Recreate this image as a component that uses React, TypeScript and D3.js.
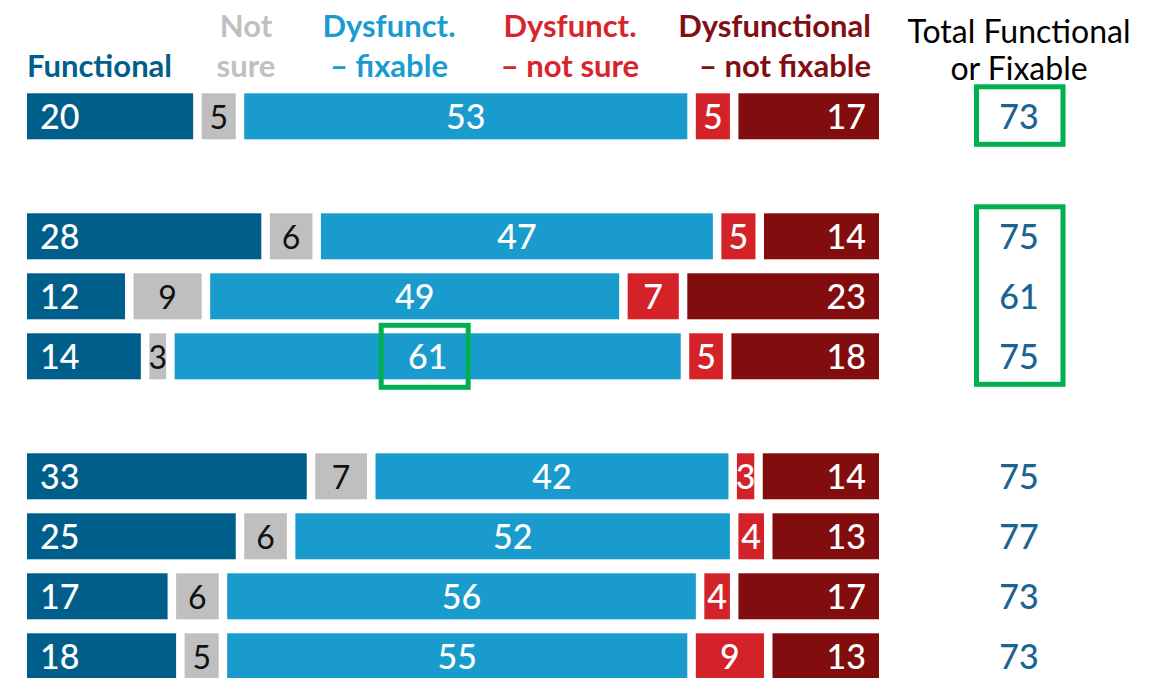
import React from "react";
import * as d3 from "d3";

// ---------- data ----------
const SLOTS = ["r1", "gapA", "r2", "r3", "r4", "gapB", "r5", "r6", "r7", "r8"];
const ROW_IDS = ["r1", "r2", "r3", "r4", "r5", "r6", "r7", "r8"];
const SERIES_KEYS = ["functional", "notSure", "dysFixable", "dysNotSure", "dysNotFixable"];
const HEADER_LINES = [
  ["Functional"],
  ["Not", "sure"],
  ["Dysfunct.", "– fixable"],
  ["Dysfunct.", "– not sure"],
  ["Dysfunctional", "– not fixable"],
];
const TOTAL_HEADER = ["Total Functional", "or Fixable"];

const FUNCTIONAL = [20, 28, 12, 14, 33, 25, 17, 18];
const NOT_SURE = [5, 6, 9, 3, 7, 6, 6, 5];
const DYS_FIXABLE = [53, 47, 49, 61, 42, 52, 56, 55];
const DYS_NOT_SURE = [5, 5, 7, 5, 3, 4, 4, 9];
const DYS_NOT_FIXABLE = [17, 14, 23, 18, 14, 13, 17, 13];
const TOTAL_FUNCTIONAL_OR_FIXABLE = [73, 75, 61, 75, 75, 77, 73, 73];

// highlighted totals (row ranges) and highlighted cell
const HIGHLIGHT_TOTAL_RANGES = [["r1", "r1"], ["r2", "r4"]];
const HIGHLIGHT_CELL = { row: "r4", series: "dysFixable" };

// ---------- styles / layout ----------
const COLORS: Record<string, string> = {
  functional: "#005f8a",
  notSure: "#bfbfbf",
  dysFixable: "#1a9bcd",
  dysNotSure: "#d42229",
  dysNotFixable: "#820d0f",
};
const HEADER_COLORS: Record<string, string> = {
  functional: "#005f8a",
  notSure: "#c0c0c0",
  dysFixable: "#1b9bd1",
  dysNotSure: "#d7242d",
  dysNotFixable: "#7f0f12",
};
const LABEL_COLORS: Record<string, string> = {
  functional: "#ffffff",
  notSure: "#111111",
  dysFixable: "#ffffff",
  dysNotSure: "#ffffff",
  dysNotFixable: "#ffffff",
};
const HEADER_POS: Record<string, { x: number; anchor: string }> = {
  functional: { x: 27, anchor: "start" },
  notSure: { x: 246, anchor: "middle" },
  dysFixable: { x: 389, anchor: "middle" },
  dysNotSure: { x: 570, anchor: "middle" },
  dysNotFixable: { x: 871, anchor: "end" },
};

const W = 1150;
const H = 678;
const X0 = 27;
const X1 = 879;
const GAP = 8.5;
const TOTAL_X = 1019;
const FONT = "Lato, 'Open Sans', sans-serif";
const GREEN = "#00b050";

export default function App() {
  const seriesValues: Record<string, number[]> = {
    functional: FUNCTIONAL,
    notSure: NOT_SURE,
    dysFixable: DYS_FIXABLE,
    dysNotSure: DYS_NOT_SURE,
    dysNotFixable: DYS_NOT_FIXABLE,
  };

  const y = d3
    .scaleBand<string>()
    .domain(SLOTS)
    .range([93.3, 93.3 + 60 * (SLOTS.length - 14 / 60)])
    .paddingInner(14 / 60)
    .paddingOuter(0);
  const bw = y.bandwidth();

  const rows = ROW_IDS.map((id, ri) => {
    const vals = SERIES_KEYS.map((k) => seriesValues[k][ri]);
    const sum = d3.sum(vals);
    const x = d3.scaleLinear().domain([0, sum]).range([X0, X1]);
    let cum = 0;
    const segs = SERIES_KEYS.map((k, si) => {
      const v = vals[si];
      const a = x(cum) + (si > 0 ? GAP / 2 : 0);
      const b = x(cum + v) - (si < SERIES_KEYS.length - 1 ? GAP / 2 : 0);
      cum += v;
      return { key: k, v, a, b };
    });
    return { id, ri, segs, y0: y(id) as number };
  });

  const cellHL = (() => {
    const r = rows.find((r) => r.id === HIGHLIGHT_CELL.row)!;
    const s = r.segs.find((s) => s.key === HIGHLIGHT_CELL.series)!;
    const cx = (s.a + s.b) / 2 - 3;
    return { x: cx - 43.5, y: r.y0 - 8, w: 87, h: bw + 16 };
  })();

  return (
    <svg
      width={W}
      height={H}
      style={{ position: "absolute", left: 0, top: 0, background: "#fff" }}
      fontFamily={FONT}
    >
      {/* headers */}
      {SERIES_KEYS.map((k, si) => {
        const lines = HEADER_LINES[si];
        const pos = HEADER_POS[k];
        const baseY = lines.length === 1 ? [77] : [37, 77];
        return (
          <text
            key={k}
            x={pos.x}
            textAnchor={pos.anchor as any}
            fill={HEADER_COLORS[k]}
            fontSize={31}
            fontWeight={700}
          >
            {lines.map((l, li) => (
              <tspan key={li} x={pos.x} y={baseY[li]}>
                {l}
              </tspan>
            ))}
          </text>
        );
      })}
      <text x={TOTAL_X} textAnchor="middle" fill="#000" fontSize={32} fontWeight={400}>
        {TOTAL_HEADER.map((l, li) => (
          <tspan key={li} x={TOTAL_X} y={[42.5, 80][li]}>
            {l}
          </tspan>
        ))}
      </text>

      {/* bars */}
      {rows.map((r) => (
        <g key={r.id}>
          {r.segs.map((s) => {
            let tx = (s.a + s.b) / 2;
            let anchor = "middle";
            if (s.key === "functional") {
              tx = s.a + 13;
              anchor = "start";
            } else if (s.key === "dysNotFixable") {
              tx = s.b - 13;
              anchor = "end";
            }
            return (
              <g key={s.key}>
                <rect x={s.a} y={r.y0} width={s.b - s.a} height={bw} fill={COLORS[s.key]} />
                <text
                  x={tx}
                  y={r.y0 + bw / 2 + 12.5}
                  textAnchor={anchor as any}
                  fill={LABEL_COLORS[s.key]}
                  fontSize={s.key === "notSure" ? 32 : 34}
                  fontWeight={s.key === "notSure" ? 400 : 500}
                >
                  {s.v}
                </text>
              </g>
            );
          })}
          <text
            x={TOTAL_X}
            y={r.y0 + bw / 2 + 12.5}
            textAnchor="middle"
            fill="#1a6493"
            fontSize={34}
            fontWeight={500}
          >
            {TOTAL_FUNCTIONAL_OR_FIXABLE[r.ri]}
          </text>
        </g>
      ))}

      {/* highlight boxes */}
      {HIGHLIGHT_TOTAL_RANGES.map(([a, b], i) => {
        const top = (y(a) as number) - 6.5;
        const bottom = (y(b) as number) + bw + 5;
        return (
          <rect
            key={i}
            x={976.5}
            y={top}
            width={86.5}
            height={bottom - top}
            fill="none"
            stroke={GREEN}
            strokeWidth={5}
          />
        );
      })}
      <rect
        x={cellHL.x}
        y={cellHL.y}
        width={cellHL.w}
        height={cellHL.h}
        fill="none"
        stroke={GREEN}
        strokeWidth={5}
      />
    </svg>
  );
}
